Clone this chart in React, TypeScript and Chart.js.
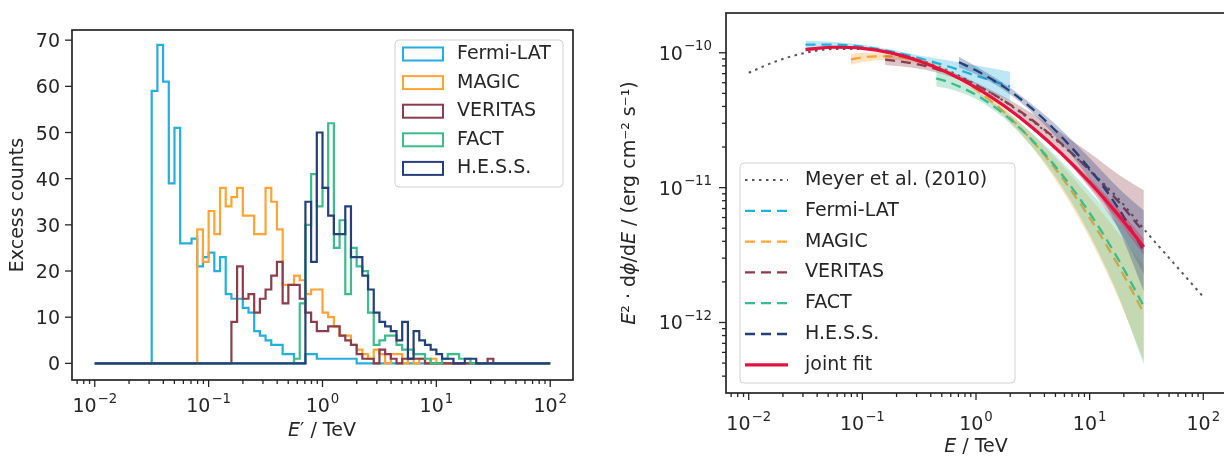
import React, { useEffect, useRef } from "react";
import { Chart, registerables } from "chart.js";

Chart.register(...registerables);

const FONT_FAMILY = '"DejaVu Sans", "Liberation Sans", sans-serif';
const FONT_SIZE = 19;
const SUP_FONT_SIZE = 13.3;
const TEXT_COLOR = "#262626";

// ---------------- Left panel: excess-count histograms ----------------
// 20 logarithmic bins per decade between 1e-2 TeV and 1e2 TeV
const HIST_LOG_E_MIN = -2;
const HIST_BINS_PER_DECADE = 20;
const HIST_N_BINS = 80;

const INSTRUMENTS = ["Fermi-LAT", "MAGIC", "VERITAS", "FACT", "H.E.S.S."];
const INSTRUMENT_COLORS = ["#24aede", "#ffa333", "#8c3d4b", "#3cbc8a", "#253f7b"];

const FERMI_FIRST_BIN = 10;
const FERMI_COUNTS = [59, 69, 61, 39, 51, 26, 26, 27, 21, 23, 24, 20, 23, 15, 14, 14, 12, 11, 7, 6, 5, 4, 4, 2, 2, 0, 0, 2, 2, 1, 1, 1, 1, 1, 1, 1];

const MAGIC_FIRST_BIN = 18;
const MAGIC_COUNTS = [29, 22, 33, 28, 38, 34, 36, 38, 32, 32, 28, 28, 38, 35, 29, 17, 17, 19, 18, 15, 16, 16, 11, 10, 8, 6, 6, 4, 3, 2, 1, 3, 2, 0, 2, 2, 0, 1, 0, 1, 0, 1];

const VERITAS_FIRST_BIN = 24;
const VERITAS_COUNTS = [9, 21, 14, 15, 11, 14, 16, 19, 22, 13, 17, 17, 14, 11, 9, 7, 7, 8, 8, 6, 5, 4, 2, 1, 1, 0, 3, 2, 1, 0, 1, 1, 1, 1, 0, 0, 0, 0, 0, 0, 0, 0, 0, 0, 0, 1];

const FACT_FIRST_BIN = 35;
const FACT_COUNTS = [1, 13, 30, 41, 34, 38, 52, 25, 31, 15, 25, 21, 20, 11, 4, 5, 6, 6, 4, 3, 3, 2, 2, 1, 0, 0, 1, 2, 2, 1, 1];

const HESS_FIRST_BIN = 37;
const HESS_COUNTS = [35, 22, 50, 38, 32, 28, 28, 34, 23, 23, 19, 16, 11, 9, 8, 7, 5, 9, 1, 7, 5, 4, 3, 2, 1, 1, 0, 0, 1, 1];

const COUNT_TICKS = [0, 10, 20, 30, 40, 50, 60, 70];

// ---------------- Right panel: SED models (log10 E/TeV, log10 E^2 dphi/dE [erg cm^-2 s^-1]) ----------------
const MEYER_LOG_E = [-2, -1.75, -1.5, -1.25, -1, -0.75, -0.5, -0.25, 0, 0.25, 0.5, 0.75, 1, 1.25, 1.5, 1.75, 2];
const MEYER_LOG_SED = [-10.148, -10.06, -10.0, -9.972, -9.972, -9.998, -10.05, -10.13, -10.235, -10.36, -10.51, -10.68, -10.87, -11.08, -11.33, -11.57, -11.81];

const FERMI_LOG_E = [-1.5, -1.25, -1, -0.75, -0.5, -0.25, 0, 0.3];
const FERMI_LOG_SED = [-9.94, -9.94, -9.955, -9.99, -10.04, -10.1, -10.17, -10.25];
const FERMI_LOG_ERR = [0.03, 0.02, 0.015, 0.015, 0.02, 0.045, 0.075, 0.11];

const MAGIC_LOG_E = [-1.1, -1, -0.75, -0.5, -0.25, 0, 0.25, 0.5, 0.75, 1, 1.25, 1.477];
const MAGIC_LOG_SED = [-10.05, -10.034, -10.026, -10.063, -10.145, -10.271, -10.442, -10.658, -10.918, -11.224, -11.574, -11.93];
const MAGIC_LOG_ERR = [0.04, 0.035, 0.025, 0.02, 0.02, 0.02, 0.03, 0.05, 0.09, 0.15, 0.24, 0.35];

const VERITAS_LOG_E = [-0.8, -0.5, -0.25, 0, 0.25, 0.5, 0.75, 1, 1.25, 1.477];
const VERITAS_LOG_SED = [-10.05, -10.088, -10.15, -10.24, -10.357, -10.502, -10.674, -10.873, -11.1, -11.33];
const VERITAS_LOG_ERR = [0.04, 0.03, 0.02, 0.02, 0.03, 0.05, 0.08, 0.13, 0.2, 0.31];

const FACT_LOG_E = [-0.35, -0.25, 0, 0.25, 0.5, 0.75, 1, 1.25, 1.477];
const FACT_LOG_SED = [-10.19, -10.215, -10.312, -10.458, -10.653, -10.896, -11.188, -11.528, -11.88];
const FACT_LOG_ERR = [0.06, 0.05, 0.03, 0.03, 0.05, 0.09, 0.16, 0.27, 0.43];

const HESS_LOG_E = [-0.15, 0, 0.25, 0.5, 0.75, 1, 1.25, 1.477];
const HESS_LOG_SED = [-10.07, -10.13, -10.255, -10.418, -10.62, -10.86, -11.15, -11.47];
const HESS_LOG_ERR = [0.04, 0.03, 0.025, 0.03, 0.05, 0.08, 0.15, 0.3];

const JOINT_LOG_E = [-1.5, -1.25, -1, -0.75, -0.5, -0.25, 0, 0.25, 0.5, 0.75, 1, 1.25, 1.477];
const JOINT_LOG_SED = [-9.976, -9.959, -9.967, -10.001, -10.061, -10.147, -10.258, -10.395, -10.558, -10.746, -10.96, -11.2, -11.44];
const JOINT_LOG_ERR = [0.015, 0.01, 0.01, 0.01, 0.01, 0.01, 0.01, 0.012, 0.015, 0.02, 0.03, 0.045, 0.06];

const MEYER_LABEL = "Meyer et al. (2010)";
const JOINT_LABEL = "joint fit";
const MEYER_COLOR = "#555555";
const JOINT_COLOR = "#e4123f";

// axis ranges
const X_LOG_MIN = -2.2;
const X_LOG_MAX = 2.2;
const SED_LOG_MIN = -12.505;
const SED_LOG_MAX = -9.705;
const COUNT_MIN = -3.6;
const COUNT_MAX = 72.2;

// ---------------- helpers ----------------
type Pt = { x: number; y: number };

function histogramPoints(firstBin: number, counts: number[]): Pt[] {
  const pts: Pt[] = [];
  for (let i = 0; i <= HIST_N_BINS; i++) {
    const j = i - firstBin;
    const y = i < HIST_N_BINS && j >= 0 && j < counts.length ? counts[j] : 0;
    pts.push({ x: Math.pow(10, HIST_LOG_E_MIN + i / HIST_BINS_PER_DECADE), y });
  }
  return pts;
}

function sedPoints(logE: number[], logSed: number[], logErr: number[] | null, sign: number): Pt[] {
  return logE.map((e, i) => ({
    x: Math.pow(10, e),
    y: Math.pow(10, logSed[i] + sign * (logErr ? logErr[i] : 0)),
  }));
}

function logTickValues(minExp: number, maxExp: number): number[] {
  const out: number[] = [];
  for (let e = Math.floor(minExp); e <= Math.ceil(maxExp); e++) {
    for (let m = 1; m <= 9; m++) {
      const v = m * Math.pow(10, e);
      const lv = Math.log10(v);
      if (lv >= minExp - 1e-9 && lv <= maxExp + 1e-9) out.push(v);
    }
  }
  return out;
}

function isDecade(v: number): boolean {
  const l = Math.log10(v);
  return Math.abs(l - Math.round(l)) < 1e-6;
}

function rgba(hex: string, a: number): string {
  const n = parseInt(hex.slice(1), 16);
  return `rgba(${(n >> 16) & 255},${(n >> 8) & 255},${n & 255},${a})`;
}

const font = (italic = false, size = FONT_SIZE) => `${italic ? "italic " : ""}${size}px ${FONT_FAMILY}`;

type Piece = { t: string; italic?: boolean };

function drawPieces(ctx: CanvasRenderingContext2D, pieces: Piece[], cx: number, cy: number, rotate: boolean) {
  ctx.save();
  ctx.translate(cx, cy);
  if (rotate) ctx.rotate(-Math.PI / 2);
  ctx.textBaseline = "middle";
  ctx.textAlign = "left";
  ctx.fillStyle = TEXT_COLOR;
  const widths = pieces.map((p) => {
    ctx.font = font(!!p.italic);
    return ctx.measureText(p.t).width;
  });
  const total = widths.reduce((a, b) => a + b, 0);
  let x = -total / 2;
  pieces.forEach((p, i) => {
    ctx.font = font(!!p.italic);
    ctx.fillText(p.t, x, 0);
    x += widths[i];
  });
  ctx.restore();
}

// "10" with a raised, smaller exponent (matplotlib mathtext style)
function drawPowerLabel(ctx: CanvasRenderingContext2D, value: number, x: number, baseline: number, align: "center" | "right") {
  const exp = Math.round(Math.log10(value));
  const base = "10";
  const sup = (exp < 0 ? "\u2212" : "") + String(Math.abs(exp));
  ctx.font = font();
  const wb = ctx.measureText(base).width;
  ctx.font = font(false, SUP_FONT_SIZE);
  const ws = ctx.measureText(sup).width;
  const total = wb + 1 + ws;
  const x0 = align === "center" ? x - total / 2 : x - total;
  ctx.textAlign = "left";
  ctx.textBaseline = "alphabetic";
  ctx.fillStyle = TEXT_COLOR;
  ctx.font = font();
  ctx.fillText(base, x0, baseline);
  ctx.font = font(false, SUP_FONT_SIZE);
  ctx.fillText(sup, x0 + wb + 1, baseline - 9.5);
}

function roundRectPath(ctx: CanvasRenderingContext2D, x: number, y: number, w: number, h: number, r: number) {
  ctx.beginPath();
  ctx.moveTo(x + r, y);
  ctx.lineTo(x + w - r, y);
  ctx.quadraticCurveTo(x + w, y, x + w, y + r);
  ctx.lineTo(x + w, y + h - r);
  ctx.quadraticCurveTo(x + w, y + h, x + w - r, y + h);
  ctx.lineTo(x + r, y + h);
  ctx.quadraticCurveTo(x, y + h, x, y + h - r);
  ctx.lineTo(x, y + r);
  ctx.quadraticCurveTo(x, y, x + r, y);
  ctx.closePath();
}

function drawLegendBox(ctx: CanvasRenderingContext2D, x: number, y: number, w: number, h: number) {
  roundRectPath(ctx, x, y, w, h, 4);
  ctx.fillStyle = "rgba(255,255,255,0.85)";
  ctx.fill();
  ctx.strokeStyle = "#d2d2d2";
  ctx.lineWidth = 1;
  ctx.stroke();
}

type AxesOpts = {
  yIsLog: boolean;
  xLabelBaseline: number; // offset below chart area bottom
  yLabelGap: number; // gap between label right edge and chart area left
};

// Draws outward tick marks, tick labels and the four spines
function axesPlugin(o: AxesOpts) {
  return {
    id: "mplAxes",
    afterDraw(chart: any) {
      const { ctx, chartArea: a } = chart;
      const xs = chart.scales.x;
      const ys = chart.scales.y;
      ctx.save();
      ctx.strokeStyle = TEXT_COLOR;
      ctx.lineWidth = 1.3;
      for (const t of xs.ticks) {
        const p = xs.getPixelForValue(t.value);
        const major = isDecade(t.value);
        ctx.beginPath();
        ctx.moveTo(p, a.bottom);
        ctx.lineTo(p, a.bottom + (major ? 7 : 4));
        ctx.stroke();
        if (major) drawPowerLabel(ctx, t.value, p, a.bottom + o.xLabelBaseline, "center");
      }
      for (const t of ys.ticks) {
        const p = ys.getPixelForValue(t.value);
        const major = !o.yIsLog || isDecade(t.value);
        ctx.strokeStyle = TEXT_COLOR;
        ctx.lineWidth = 1.3;
        ctx.beginPath();
        ctx.moveTo(a.left, p);
        ctx.lineTo(a.left - (major ? 7 : 4), p);
        ctx.stroke();
        if (major) {
          if (o.yIsLog) {
            drawPowerLabel(ctx, t.value, a.left - o.yLabelGap, p + 7, "right");
          } else {
            ctx.font = font();
            ctx.fillStyle = TEXT_COLOR;
            ctx.textAlign = "right";
            ctx.textBaseline = "alphabetic";
            ctx.fillText(String(t.value), a.left - o.yLabelGap, p + 7);
          }
        }
      }
      ctx.lineWidth = 1.7;
      ctx.strokeRect(a.left, a.top, a.right - a.left, a.bottom - a.top);
      ctx.restore();
    },
  };
}

function fixedScale(size: number, horizontal: boolean) {
  return (s: any) => {
    if (horizontal) s.height = size;
    else s.width = size;
    s.paddingTop = 0;
    s.paddingBottom = 0;
    s.paddingLeft = 0;
    s.paddingRight = 0;
  };
}

const hiddenAxisBits = {
  grid: { display: false, drawTicks: false },
  border: { display: false },
};

// ---------------- Left chart ----------------
function leftConfig(): any {
  const firsts = [FERMI_FIRST_BIN, MAGIC_FIRST_BIN, VERITAS_FIRST_BIN, FACT_FIRST_BIN, HESS_FIRST_BIN];
  const counts = [FERMI_COUNTS, MAGIC_COUNTS, VERITAS_COUNTS, FACT_COUNTS, HESS_COUNTS];
  const datasets = INSTRUMENTS.map((label, i) => ({
    label,
    data: histogramPoints(firsts[i], counts[i]),
    borderColor: INSTRUMENT_COLORS[i],
    borderWidth: 2.2,
    pointRadius: 0,
    fill: false,
    stepped: true,
    order: 10 - i,
  }));

  const legendPlugin = {
    id: "histLegend",
    afterDraw(chart: any) {
      const ctx = chart.ctx as CanvasRenderingContext2D;
      ctx.save();
      drawLegendBox(ctx, 395, 40, 168, 147);
      INSTRUMENTS.forEach((label, i) => {
        const cy = 54 + i * 28.6;
        ctx.strokeStyle = INSTRUMENT_COLORS[i];
        ctx.lineWidth = 2;
        ctx.strokeRect(403, cy - 6.5, 40, 13);
        ctx.fillStyle = TEXT_COLOR;
        ctx.font = font();
        ctx.textBaseline = "middle";
        ctx.textAlign = "left";
        ctx.fillText(label, 457, cy);
      });
      ctx.restore();
    },
  };

  const titlePlugin = {
    id: "histTitles",
    afterDraw(chart: any) {
      const ctx = chart.ctx as CanvasRenderingContext2D;
      drawPieces(ctx, [{ t: "Excess counts" }], 18, 205, true);
      drawPieces(ctx, [{ t: "E", italic: true }, { t: "\u2032 / TeV" }], 322, 431, false);
    },
  };

  return {
    type: "line",
    data: { datasets },
    options: {
      responsive: false,
      maintainAspectRatio: false,
      animation: false,
      events: [],
      layout: { padding: { top: 30, right: 27, left: 0, bottom: 0 } },
      plugins: { legend: { display: false }, tooltip: { enabled: false } },
      scales: {
        x: {
          type: "logarithmic",
          min: Math.pow(10, X_LOG_MIN),
          max: Math.pow(10, X_LOG_MAX),
          afterFit: fixedScale(80, true),
          afterBuildTicks: (s: any) => { s.ticks = logTickValues(X_LOG_MIN, X_LOG_MAX).map((v) => ({ value: v })); },
          ...hiddenAxisBits,
          ticks: { display: false, autoSkip: false },
        },
        y: {
          type: "linear",
          min: COUNT_MIN,
          max: COUNT_MAX,
          afterFit: fixedScale(72, false),
          afterBuildTicks: (s: any) => { s.ticks = COUNT_TICKS.map((v) => ({ value: v })); },
          ...hiddenAxisBits,
          ticks: { display: false, autoSkip: false },
        },
      },
    },
    plugins: [axesPlugin({ yIsLog: false, xLabelBaseline: 32, yLabelGap: 12 }), legendPlugin, titlePlugin],
  };
}

// ---------------- Right chart ----------------
function rightConfig(): any {
  const logEs = [FERMI_LOG_E, MAGIC_LOG_E, VERITAS_LOG_E, FACT_LOG_E, HESS_LOG_E];
  const logSeds = [FERMI_LOG_SED, MAGIC_LOG_SED, VERITAS_LOG_SED, FACT_LOG_SED, HESS_LOG_SED];
  const logErrs = [FERMI_LOG_ERR, MAGIC_LOG_ERR, VERITAS_LOG_ERR, FACT_LOG_ERR, HESS_LOG_ERR];

  let order = 100;
  const datasets: any[] = [];
  const curve = { pointRadius: 0, cubicInterpolationMode: "monotone" };

  datasets.push({
    ...curve, label: MEYER_LABEL,
    data: sedPoints(MEYER_LOG_E, MEYER_LOG_SED, null, 0),
    borderColor: MEYER_COLOR, borderWidth: 2, borderDash: [2.5, 4.5], fill: false, order: order--,
  });

  const addModel = (label: string, color: string, le: number[], ls: number[], lerr: number[], solid: boolean) => {
    const o = order--;
    datasets.push({ ...curve, label: label + " upper", data: sedPoints(le, ls, lerr, 1), borderWidth: 0, borderColor: "rgba(0,0,0,0)", fill: false, order: o });
    datasets.push({ ...curve, label: label + " lower", data: sedPoints(le, ls, lerr, -1), borderWidth: 0, borderColor: "rgba(0,0,0,0)", backgroundColor: rgba(color, 0.3), fill: "-1", order: o });
    datasets.push({
      ...curve, label, data: sedPoints(le, ls, null, 0), borderColor: color,
      borderWidth: solid ? 3.2 : 2.3, borderDash: solid ? [] : [10, 6], fill: false, order: order--,
    });
  };

  INSTRUMENTS.forEach((label, i) => addModel(label, INSTRUMENT_COLORS[i], logEs[i], logSeds[i], logErrs[i], false));
  addModel(JOINT_LABEL, JOINT_COLOR, JOINT_LOG_E, JOINT_LOG_SED, JOINT_LOG_ERR, true);

  const entries = [
    { label: MEYER_LABEL, color: MEYER_COLOR, dash: [2.5, 4.5], width: 2 },
    ...INSTRUMENTS.map((label, i) => ({ label, color: INSTRUMENT_COLORS[i], dash: [10, 6], width: 2.3 })),
    { label: JOINT_LABEL, color: JOINT_COLOR, dash: [] as number[], width: 3.2 },
  ];

  const legendPlugin = {
    id: "sedLegend",
    afterDraw(chart: any) {
      const ctx = chart.ctx as CanvasRenderingContext2D;
      ctx.save();
      drawLegendBox(ctx, 128, 163, 275, 220);
      entries.forEach((en, i) => {
        const cy = 180 + i * 30.8;
        ctx.strokeStyle = en.color;
        ctx.lineWidth = en.width;
        ctx.setLineDash(en.dash);
        ctx.beginPath();
        ctx.moveTo(133, cy);
        ctx.lineTo(176, cy);
        ctx.stroke();
        ctx.setLineDash([]);
        ctx.fillStyle = TEXT_COLOR;
        ctx.font = font();
        ctx.textBaseline = "middle";
        ctx.textAlign = "left";
        ctx.fillText(en.label, 193, cy);
      });
      ctx.restore();
    },
  };

  const titlePlugin = {
    id: "sedTitles",
    afterDraw(chart: any) {
      const ctx = chart.ctx as CanvasRenderingContext2D;
      drawPieces(ctx, [{ t: "E", italic: true }, { t: " / TeV" }], 364, 447, false);
      drawPieces(
        ctx,
        [
          { t: "E", italic: true }, { t: "\u00B2 \u00B7 d" }, { t: "\u03D5", italic: true }, { t: "/d" },
          { t: "E", italic: true }, { t: " / (erg cm\u207B\u00B2 s\u207B\u00B9)" },
        ],
        18, 203, true,
      );
    },
  };

  return {
    type: "line",
    data: { datasets },
    options: {
      responsive: false,
      maintainAspectRatio: false,
      animation: false,
      events: [],
      layout: { padding: { top: 13, right: 14, left: 0, bottom: 0 } },
      plugins: { legend: { display: false }, tooltip: { enabled: false } },
      scales: {
        x: {
          type: "logarithmic",
          min: Math.pow(10, X_LOG_MIN),
          max: Math.pow(10, X_LOG_MAX),
          afterFit: fixedScale(67, true),
          afterBuildTicks: (s: any) => { s.ticks = logTickValues(X_LOG_MIN, X_LOG_MAX).map((v) => ({ value: v })); },
          ...hiddenAxisBits,
          ticks: { display: false, autoSkip: false },
        },
        y: {
          type: "logarithmic",
          min: Math.pow(10, SED_LOG_MIN),
          max: Math.pow(10, SED_LOG_MAX),
          afterFit: fixedScale(114, false),
          afterBuildTicks: (s: any) => { s.ticks = logTickValues(SED_LOG_MIN, SED_LOG_MAX).map((v) => ({ value: v })); },
          ...hiddenAxisBits,
          ticks: { display: false, autoSkip: false },
        },
      },
    },
    plugins: [axesPlugin({ yIsLog: true, xLabelBaseline: 37, yLabelGap: 14 }), legendPlugin, titlePlugin],
  };
}

export default function App() {
  const leftRef = useRef<HTMLCanvasElement>(null);
  const rightRef = useRef<HTMLCanvasElement>(null);

  useEffect(() => {
    const left = new Chart(leftRef.current as HTMLCanvasElement, leftConfig());
    const right = new Chart(rightRef.current as HTMLCanvasElement, rightConfig());
    return () => {
      left.destroy();
      right.destroy();
    };
  }, []);

  return (
    <div style={{ position: "absolute", left: 0, top: 0, width: 1224, height: 460, overflow: "hidden", background: "#ffffff" }}>
      <canvas ref={leftRef} width={600} height={460} style={{ position: "absolute", left: 0, top: 0 }} />
      <canvas ref={rightRef} width={628} height={460} style={{ position: "absolute", left: 612, top: 0 }} />
    </div>
  );
}
